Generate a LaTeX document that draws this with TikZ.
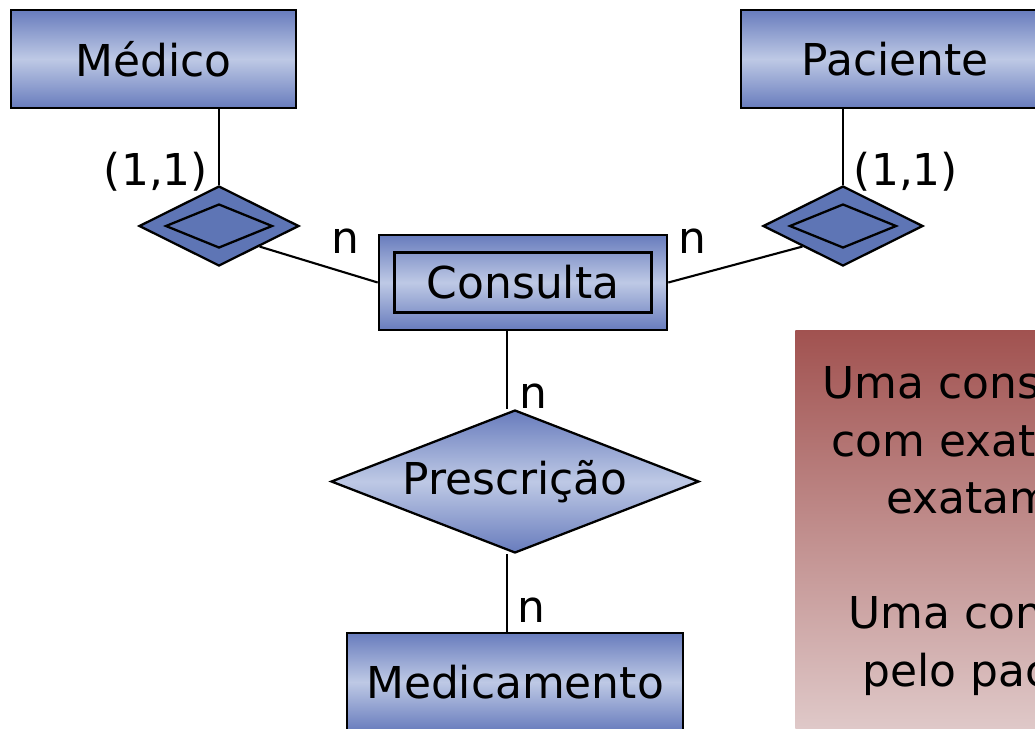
\documentclass[tikz,border=0pt]{standalone}
\usepackage{fontspec}
\setmainfont{DejaVu Sans}
\usetikzlibrary{positioning, shapes.geometric}

\definecolor{entdark}{RGB}{104,124,189}
\definecolor{entlight}{RGB}{190,201,229}
\definecolor{relsolid}{RGB}{94,117,181}
\definecolor{notetop}{RGB}{161,82,80}
\definecolor{notebot}{RGB}{228,210,210}

\begin{document}
\begin{tikzpicture}[
  x=0.02cm, y=-0.02cm,
  every node/.style={font=\fontsize{25}{30}\selectfont},
  entity/.style={draw, line width=1.5pt, minimum height=1.96cm,
                 top color=entdark, bottom color=entdark, middle color=entlight},
  weakrel/.style={diamond, draw, line width=1.3pt, fill=relsolid,
                  minimum width=3.2cm, minimum height=1.6cm, inner sep=0pt},
  weakin/.style={diamond, draw, line width=1.3pt,
                 minimum width=2.14cm, minimum height=0.88cm, inner sep=0pt},
  relation/.style={diamond, draw, line width=1.3pt, aspect=2.57, inner sep=0pt,
                   minimum width=7.36cm, minimum height=2.86cm,
                   top color=entdark, bottom color=entdark, middle color=entlight},
  notebox/.style={anchor=north west, minimum width=6cm, minimum height=8.6cm,
                  top color=notetop, bottom color=notebot},
  card/.style={anchor=base, inner sep=0pt},
  noteline/.style={anchor=base west, inner sep=0pt},
  link/.style={line width=1.2pt}
]
\useasboundingbox (0,0) rectangle (1035,728);
\clip (0,0) rectangle (1035,728);

% entidades
\node[entity, minimum width=5.7cm] (medico) at (153.5,59) {Médico};
\node[entity, minimum width=6.16cm] (paciente) at (895,59) {Paciente};
\node[entity, minimum width=5.76cm, minimum height=1.9cm] (consulta) at (523,282.5) {};
\node[draw, line width=1.3pt, minimum width=5.14cm, minimum height=1.2cm] (consultain) at (consulta) {Consulta};
\node[entity, minimum width=6.72cm] (medic) at (515,682) {Medicamento};

% relacionamentos
\node[weakrel] (medcons) at (219,226) {};
\node[weakin] (medconsin) at (medcons) {};
\node[weakrel] (paccons) at (843,226) {};
\node[weakin] (pacconsin) at (paccons) {};
\node[relation] (presc) at (515,481.5) {Prescrição};

\coordinate (vx) at (507,0);

\draw[link] (medico.south -| medcons) -- (medcons.north);
\draw[link] (paciente.south -| paccons) -- (paccons.north);
\draw[link] (medcons.south east) -- (consulta.west);
\draw[link] (paccons.south west) -- (consulta.east);
\draw[link] (consulta.south -| vx) -- (presc.north -| vx);
\draw[link] (presc.south -| vx) -- (medic.north -| vx);

% cardinalidades
\node[card] (cmed) at (156,185) {(1,1)};
\node[card] (cpac) at (906,185) {(1,1)};
\node[card] (nmed) at (345,253) {n};
\node[card] (npac) at (692,253) {n};
\node[card] (nprc) at (533,408) {n};
\node[card] (nmdc) at (531,622) {n};

% nota
\node[notebox] (nota) at (795,330) {};
\node[noteline] (linha1) at (822,398) {Uma consu};
\node[noteline] (linha2) at (831,456) {com exata};
\node[noteline] (linha3) at (886,513) {exatam};
\node[noteline] (linha4) at (848,628) {Uma con};
\node[noteline] (linha5) at (862,686) {pelo pac};
\end{tikzpicture}
\end{document}
